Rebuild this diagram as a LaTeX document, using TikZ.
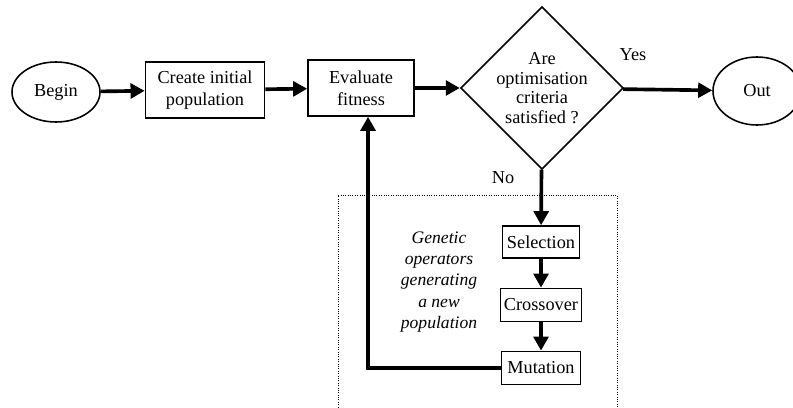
\documentclass[tikz,border=0pt]{standalone}
\usepackage{fontspec}
\setmainfont{Liberation Serif}
\usetikzlibrary{shapes.geometric,arrows.meta}

\tikzset{
  box/.style={draw,line width=1.1pt,rectangle,align=center,inner sep=1pt},
  oval/.style={draw,line width=1.1pt,ellipse,inner sep=0pt},
  test/.style={draw,line width=1.1pt,diamond,align=center,inner sep=0pt,
    minimum width=3.63cm,minimum height=3.73cm},
  flow/.style={line width=2.6pt,-{Triangle[length=10pt,width=10.5pt]}},
}

\begin{document}
\begin{tikzpicture}[x=0.025cm,y=-0.025cm,font=\fontsize{13}{15.5}\selectfont]
\useasboundingbox (0,0) rectangle (793,407);

% main line
\node[oval,minimum width=2.2cm,minimum height=1.5cm] (begin) at (56,92) {Begin};
\node[box,minimum width=2.98cm,minimum height=1.4cm] (init) at (205,90) {Create initial\\population};
\node[box,minimum width=2.65cm,minimum height=1.4cm] (eval) at (361,88) {Evaluate\\fitness};
\node[test,font=\fontsize{13}{14}\selectfont] (crit) at (542,88) {Are\\optimisation\\criteria\\satisfied ?};
\node[oval,minimum width=2.2cm,minimum height=1.7cm] (out) at (757,91) {Out};
\node (yes) at (633,55) {Yes};
\node (no) at (503,178) {No};

% genetic operators
\draw[densely dotted,line width=0.7pt] (338,410) -- (338,195) -- (617,195) -- (617,410);
\node[box,minimum width=1.93cm,minimum height=0.8cm] (sel) at (541,242) {Selection};
\node[box,minimum width=2.03cm,minimum height=0.83cm] (cross) at (541,305) {Crossover};
\node[box,minimum width=1.98cm,minimum height=0.83cm] (mut) at (541,368) {Mutation};
\node[align=center,font=\itshape\fontsize{12.5}{15}\selectfont] (ops) at (439,282)
  {Genetic\\operators\\generating\\a new\\population};

\draw[flow] (begin) -- (init);
\draw[flow] (init) -- (eval);
\draw[flow] (eval) -- (crit);
\draw[flow] (crit) -- (out);
\draw[flow] (crit) -- (sel);
\draw[flow] (sel) -- (cross);
\draw[flow] (cross) -- (mut);
\draw[flow] (mut.west) -| ([xshift=5pt]eval.south);
\end{tikzpicture}
\end{document}
